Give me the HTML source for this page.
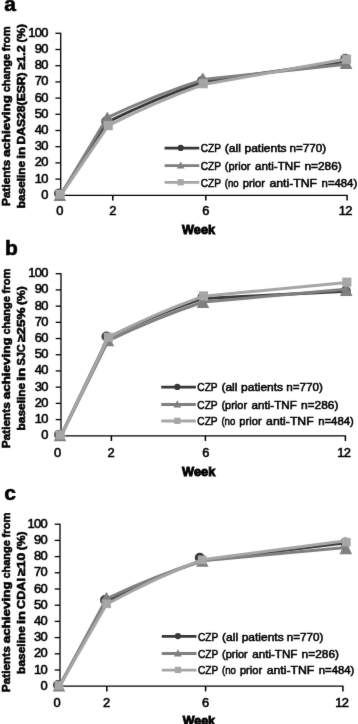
<!DOCTYPE html>
<html lang="en">
<head>
<meta charset="utf-8">
<title>Figure</title>
<style>
html,body{margin:0;padding:0;background:#fff;}
body{width:358px;height:724px;overflow:hidden;}
svg{display:block;font-family:'Liberation Sans', sans-serif;}
</style>
</head>
<body>
<svg width="358" height="724" viewBox="0 0 358 724" font-family="Liberation Sans, sans-serif">
<defs><filter id="soft" x="-2%" y="-2%" width="104%" height="104%"><feConvolveMatrix order="3" kernelMatrix="0.00524 0.06192 0.00524 0.06192 0.73137 0.06192 0.00524 0.06192 0.00524" edgeMode="none"/></filter></defs>
<g filter="url(#soft)">
<line x1="60.70" y1="32.75" x2="60.70" y2="195.85" stroke="#000" stroke-width="1.3"/>
<line x1="60.70" y1="195.30" x2="347.65" y2="195.30" stroke="#000" stroke-width="1.3"/>
<line x1="55.40" y1="195.30" x2="60.70" y2="195.30" stroke="#000" stroke-width="1.3"/>
<text transform="translate(41.20,198.80) scale(1.06,1)" font-size="12.2" letter-spacing="-0.65" stroke="#000" stroke-width="0.55">0</text>
<line x1="55.40" y1="179.10" x2="60.70" y2="179.10" stroke="#000" stroke-width="1.3"/>
<text transform="translate(34.70,182.60) scale(1.06,1)" font-size="12.2" letter-spacing="-0.65" stroke="#000" stroke-width="0.55">10</text>
<line x1="55.40" y1="162.90" x2="60.70" y2="162.90" stroke="#000" stroke-width="1.3"/>
<text transform="translate(34.70,166.40) scale(1.06,1)" font-size="12.2" letter-spacing="-0.65" stroke="#000" stroke-width="0.55">20</text>
<line x1="55.40" y1="146.70" x2="60.70" y2="146.70" stroke="#000" stroke-width="1.3"/>
<text transform="translate(34.70,150.20) scale(1.06,1)" font-size="12.2" letter-spacing="-0.65" stroke="#000" stroke-width="0.55">30</text>
<line x1="55.40" y1="130.50" x2="60.70" y2="130.50" stroke="#000" stroke-width="1.3"/>
<text transform="translate(34.70,134.00) scale(1.06,1)" font-size="12.2" letter-spacing="-0.65" stroke="#000" stroke-width="0.55">40</text>
<line x1="55.40" y1="114.30" x2="60.70" y2="114.30" stroke="#000" stroke-width="1.3"/>
<text transform="translate(34.70,117.80) scale(1.06,1)" font-size="12.2" letter-spacing="-0.65" stroke="#000" stroke-width="0.55">50</text>
<line x1="55.40" y1="98.10" x2="60.70" y2="98.10" stroke="#000" stroke-width="1.3"/>
<text transform="translate(34.70,101.60) scale(1.06,1)" font-size="12.2" letter-spacing="-0.65" stroke="#000" stroke-width="0.55">60</text>
<line x1="55.40" y1="81.90" x2="60.70" y2="81.90" stroke="#000" stroke-width="1.3"/>
<text transform="translate(34.70,85.40) scale(1.06,1)" font-size="12.2" letter-spacing="-0.65" stroke="#000" stroke-width="0.55">70</text>
<line x1="55.40" y1="65.70" x2="60.70" y2="65.70" stroke="#000" stroke-width="1.3"/>
<text transform="translate(34.70,69.20) scale(1.06,1)" font-size="12.2" letter-spacing="-0.65" stroke="#000" stroke-width="0.55">80</text>
<line x1="55.40" y1="49.50" x2="60.70" y2="49.50" stroke="#000" stroke-width="1.3"/>
<text transform="translate(34.70,53.00) scale(1.06,1)" font-size="12.2" letter-spacing="-0.65" stroke="#000" stroke-width="0.55">90</text>
<line x1="55.40" y1="33.30" x2="60.70" y2="33.30" stroke="#000" stroke-width="1.3"/>
<text transform="translate(28.20,36.80) scale(1.06,1)" font-size="12.2" letter-spacing="-0.65" stroke="#000" stroke-width="0.55">100</text>
<line x1="112.80" y1="195.30" x2="112.80" y2="200.50" stroke="#000" stroke-width="1.5"/>
<line x1="205.80" y1="195.30" x2="205.80" y2="200.50" stroke="#000" stroke-width="1.5"/>
<line x1="347.10" y1="195.30" x2="347.10" y2="200.50" stroke="#000" stroke-width="1.5"/>
<path d="M60.50,195.00 L107.30,122.20 Q155.15,98.40 203.00,81.80 L346.00,61.30" fill="none" stroke="#393939" stroke-width="3.0" stroke-linejoin="round"/>
<circle cx="59.00" cy="193.50" r="5.0" fill="#393939"/>
<circle cx="106.20" cy="121.50" r="5.0" fill="#393939"/>
<circle cx="202.00" cy="81.00" r="5.0" fill="#393939"/>
<circle cx="345.30" cy="58.80" r="5.0" fill="#393939"/>
<path d="M60.50,195.30 L107.30,117.60 Q155.15,95.00 203.00,79.60 L346.00,64.20" fill="none" stroke="#7f7f7f" stroke-width="3.0" stroke-linejoin="round"/>
<polygon points="59.80,189.80 66.10,201.10 53.50,201.10" fill="#7f7f7f"/>
<polygon points="107.30,111.80 113.60,122.10 101.00,122.10" fill="#7f7f7f"/>
<polygon points="202.70,72.40 209.00,82.70 196.40,82.70" fill="#7f7f7f"/>
<polygon points="346.00,56.10 352.30,69.10 339.70,69.10" fill="#7f7f7f"/>
<path d="M61.20,194.60 L108.20,125.70 Q155.70,101.55 203.20,84.60 L346.50,58.90" fill="none" stroke="#a6a6a6" stroke-width="3.0" stroke-linejoin="round"/>
<rect x="55.50" y="189.60" width="9.2" height="9.2" fill="#a6a6a6"/>
<rect x="103.60" y="121.00" width="9.2" height="9.2" fill="#a6a6a6"/>
<rect x="198.60" y="79.10" width="9.2" height="9.2" fill="#a6a6a6"/>
<rect x="341.90" y="54.60" width="9.2" height="9.2" fill="#a6a6a6"/>
<text transform="translate(56.27,214.90) scale(1.06,1)" font-size="12.2" letter-spacing="-0.65" stroke="#000" stroke-width="0.55">0</text>
<text transform="translate(109.22,214.90) scale(1.06,1)" font-size="12.2" letter-spacing="-0.65" stroke="#000" stroke-width="0.55">2</text>
<text transform="translate(202.22,214.90) scale(1.06,1)" font-size="12.2" letter-spacing="-0.65" stroke="#000" stroke-width="0.55">6</text>
<text transform="translate(338.74,214.90) scale(1.06,1)" font-size="12.2" letter-spacing="-0.65" stroke="#000" stroke-width="0.55">12</text>
<text x="182.10" y="234.20" font-size="12.5" textLength="32.90" lengthAdjust="spacingAndGlyphs" font-weight="bold" fill="#000" stroke="#000" stroke-width="0.9">Week</text>
<text x="4.30" y="10.70" font-size="21" font-weight="bold" stroke="#000" stroke-width="0.6">a</text>
<text transform="translate(9.80,206.00) rotate(-90)" x="0" y="0" font-size="11.3" font-weight="bold" stroke="#000" stroke-width="0.6" textLength="46.10" lengthAdjust="spacingAndGlyphs">Patients</text>
<text transform="translate(9.80,157.10) rotate(-90)" x="0" y="0" font-size="11.3" font-weight="bold" stroke="#000" stroke-width="0.6" textLength="62.00" lengthAdjust="spacingAndGlyphs">achieving</text>
<text transform="translate(9.80,92.30) rotate(-90)" x="0" y="0" font-size="11.3" font-weight="bold" stroke="#000" stroke-width="0.6" textLength="38.30" lengthAdjust="spacingAndGlyphs">change</text>
<text transform="translate(9.80,51.20) rotate(-90)" x="0" y="0" font-size="11.3" font-weight="bold" stroke="#000" stroke-width="0.6" textLength="24.80" lengthAdjust="spacingAndGlyphs">from</text>
<text transform="translate(25.00,208.30) rotate(-90)" x="0" y="0" font-size="11.3" font-weight="bold" stroke="#000" stroke-width="0.6" textLength="47.50" lengthAdjust="spacingAndGlyphs">baseline</text>
<text transform="translate(25.00,158.70) rotate(-90)" x="0" y="0" font-size="11.3" font-weight="bold" stroke="#000" stroke-width="0.6" textLength="11.90" lengthAdjust="spacingAndGlyphs">in</text>
<text transform="translate(25.00,144.50) rotate(-90)" x="0" y="0" font-size="11.3" font-weight="bold" stroke="#000" stroke-width="0.6" textLength="72.10" lengthAdjust="spacingAndGlyphs">DAS28(ESR)</text>
<text transform="translate(25.00,69.60) rotate(-90)" x="0" y="0" font-size="11.3" font-weight="bold" stroke="#000" stroke-width="0.6" textLength="24.40" lengthAdjust="spacingAndGlyphs">≥1.2</text>
<text transform="translate(25.00,42.40) rotate(-90)" x="0" y="0" font-size="11.3" font-weight="bold" stroke="#000" stroke-width="0.6" textLength="18.20" lengthAdjust="spacingAndGlyphs">(%)</text>
<line x1="164.60" y1="148.20" x2="199.30" y2="148.20" stroke="#393939" stroke-width="2.8"/>
<line x1="164.60" y1="165.60" x2="199.30" y2="165.60" stroke="#7f7f7f" stroke-width="2.8"/>
<line x1="164.60" y1="182.40" x2="199.30" y2="182.40" stroke="#a6a6a6" stroke-width="2.8"/>
<circle cx="180.70" cy="147.90" r="3.1" fill="#393939"/>
<polygon points="180.70,161.40 184.60,168.50 176.80,168.50" fill="#7f7f7f"/>
<rect x="177.60" y="179.10" width="6.2" height="6.3" fill="#a6a6a6"/>
<text x="200.70" y="152.30" font-size="11.5" textLength="20.30" lengthAdjust="spacingAndGlyphs" fill="#000" stroke="#000" stroke-width="0.55">CZP</text>
<text x="224.80" y="152.30" font-size="11.5" textLength="16.10" lengthAdjust="spacingAndGlyphs" fill="#000" stroke="#000" stroke-width="0.55">(all</text>
<text x="244.50" y="152.30" font-size="11.5" textLength="42.00" lengthAdjust="spacingAndGlyphs" fill="#000" stroke="#000" stroke-width="0.55">patients</text>
<text x="289.60" y="152.30" font-size="11.5" textLength="36.60" lengthAdjust="spacingAndGlyphs" fill="#000" stroke="#000" stroke-width="0.55">n=770)</text>
<text x="200.70" y="169.70" font-size="11.5" textLength="20.30" lengthAdjust="spacingAndGlyphs" fill="#000" stroke="#000" stroke-width="0.55">CZP</text>
<text x="224.80" y="169.70" font-size="11.5" textLength="25.70" lengthAdjust="spacingAndGlyphs" fill="#000" stroke="#000" stroke-width="0.55">(prior</text>
<text x="255.00" y="169.70" font-size="11.5" textLength="45.30" lengthAdjust="spacingAndGlyphs" fill="#000" stroke="#000" stroke-width="0.55">anti-TNF</text>
<text x="304.40" y="169.70" font-size="11.5" textLength="37.40" lengthAdjust="spacingAndGlyphs" fill="#000" stroke="#000" stroke-width="0.55">n=286)</text>
<text x="200.70" y="186.50" font-size="11.5" textLength="20.30" lengthAdjust="spacingAndGlyphs" fill="#000" stroke="#000" stroke-width="0.55">CZP</text>
<text x="224.80" y="186.50" font-size="11.5" textLength="13.90" lengthAdjust="spacingAndGlyphs" fill="#000" stroke="#000" stroke-width="0.55">(no</text>
<text x="242.70" y="186.50" font-size="11.5" textLength="22.30" lengthAdjust="spacingAndGlyphs" fill="#000" stroke="#000" stroke-width="0.55">prior</text>
<text x="269.50" y="186.50" font-size="11.5" textLength="47.60" lengthAdjust="spacingAndGlyphs" fill="#000" stroke="#000" stroke-width="0.55">anti-TNF</text>
<text x="321.60" y="186.50" font-size="11.5" textLength="35.60" lengthAdjust="spacingAndGlyphs" fill="#000" stroke="#000" stroke-width="0.55">n=484)</text>
<line x1="61.00" y1="273.15" x2="61.00" y2="436.35" stroke="#000" stroke-width="1.3"/>
<line x1="61.00" y1="435.80" x2="345.95" y2="435.80" stroke="#000" stroke-width="1.3"/>
<line x1="55.70" y1="435.80" x2="61.00" y2="435.80" stroke="#000" stroke-width="1.3"/>
<text transform="translate(41.20,439.30) scale(1.06,1)" font-size="12.2" letter-spacing="-0.65" stroke="#000" stroke-width="0.55">0</text>
<line x1="55.70" y1="419.59" x2="61.00" y2="419.59" stroke="#000" stroke-width="1.3"/>
<text transform="translate(34.70,423.09) scale(1.06,1)" font-size="12.2" letter-spacing="-0.65" stroke="#000" stroke-width="0.55">10</text>
<line x1="55.70" y1="403.38" x2="61.00" y2="403.38" stroke="#000" stroke-width="1.3"/>
<text transform="translate(34.70,406.88) scale(1.06,1)" font-size="12.2" letter-spacing="-0.65" stroke="#000" stroke-width="0.55">20</text>
<line x1="55.70" y1="387.17" x2="61.00" y2="387.17" stroke="#000" stroke-width="1.3"/>
<text transform="translate(34.70,390.67) scale(1.06,1)" font-size="12.2" letter-spacing="-0.65" stroke="#000" stroke-width="0.55">30</text>
<line x1="55.70" y1="370.96" x2="61.00" y2="370.96" stroke="#000" stroke-width="1.3"/>
<text transform="translate(34.70,374.46) scale(1.06,1)" font-size="12.2" letter-spacing="-0.65" stroke="#000" stroke-width="0.55">40</text>
<line x1="55.70" y1="354.75" x2="61.00" y2="354.75" stroke="#000" stroke-width="1.3"/>
<text transform="translate(34.70,358.25) scale(1.06,1)" font-size="12.2" letter-spacing="-0.65" stroke="#000" stroke-width="0.55">50</text>
<line x1="55.70" y1="338.54" x2="61.00" y2="338.54" stroke="#000" stroke-width="1.3"/>
<text transform="translate(34.70,342.04) scale(1.06,1)" font-size="12.2" letter-spacing="-0.65" stroke="#000" stroke-width="0.55">60</text>
<line x1="55.70" y1="322.33" x2="61.00" y2="322.33" stroke="#000" stroke-width="1.3"/>
<text transform="translate(34.70,325.83) scale(1.06,1)" font-size="12.2" letter-spacing="-0.65" stroke="#000" stroke-width="0.55">70</text>
<line x1="55.70" y1="306.12" x2="61.00" y2="306.12" stroke="#000" stroke-width="1.3"/>
<text transform="translate(34.70,309.62) scale(1.06,1)" font-size="12.2" letter-spacing="-0.65" stroke="#000" stroke-width="0.55">80</text>
<line x1="55.70" y1="289.91" x2="61.00" y2="289.91" stroke="#000" stroke-width="1.3"/>
<text transform="translate(34.70,293.41) scale(1.06,1)" font-size="12.2" letter-spacing="-0.65" stroke="#000" stroke-width="0.55">90</text>
<line x1="55.70" y1="273.70" x2="61.00" y2="273.70" stroke="#000" stroke-width="1.3"/>
<text transform="translate(28.20,277.20) scale(1.06,1)" font-size="12.2" letter-spacing="-0.65" stroke="#000" stroke-width="0.55">100</text>
<line x1="111.40" y1="435.80" x2="111.40" y2="441.00" stroke="#000" stroke-width="1.5"/>
<line x1="205.40" y1="435.80" x2="205.40" y2="441.00" stroke="#000" stroke-width="1.5"/>
<line x1="345.40" y1="435.80" x2="345.40" y2="441.00" stroke="#000" stroke-width="1.5"/>
<path d="M61.20,435.20 L108.20,337.40 Q155.70,314.30 203.20,298.40 L346.00,291.30" fill="none" stroke="#393939" stroke-width="3.0" stroke-linejoin="round"/>
<circle cx="59.10" cy="434.70" r="5.0" fill="#393939"/>
<circle cx="106.50" cy="336.50" r="5.0" fill="#393939"/>
<circle cx="202.50" cy="297.30" r="5.0" fill="#393939"/>
<circle cx="345.80" cy="291.00" r="5.0" fill="#393939"/>
<path d="M61.00,436.00 L108.20,340.70 Q155.70,317.75 203.20,302.00 L346.00,289.30" fill="none" stroke="#7f7f7f" stroke-width="3.0" stroke-linejoin="round"/>
<polygon points="60.00,430.00 66.30,441.30 53.70,441.30" fill="#7f7f7f"/>
<polygon points="108.00,335.00 114.30,346.30 101.70,346.30" fill="#7f7f7f"/>
<polygon points="203.00,296.60 209.30,307.90 196.70,307.90" fill="#7f7f7f"/>
<polygon points="346.20,283.10 352.50,296.10 339.90,296.10" fill="#7f7f7f"/>
<path d="M61.30,435.20 L108.40,337.30 Q155.90,313.15 203.40,296.20 L346.80,282.60" fill="none" stroke="#a6a6a6" stroke-width="3.0" stroke-linejoin="round"/>
<rect x="55.60" y="430.30" width="9.2" height="9.2" fill="#a6a6a6"/>
<rect x="103.80" y="332.70" width="9.2" height="9.2" fill="#a6a6a6"/>
<rect x="198.80" y="291.40" width="9.2" height="9.2" fill="#a6a6a6"/>
<rect x="342.20" y="277.60" width="9.2" height="9.2" fill="#a6a6a6"/>
<text transform="translate(53.97,456.60) scale(1.06,1)" font-size="12.2" letter-spacing="-0.65" stroke="#000" stroke-width="0.55">0</text>
<text transform="translate(107.42,456.60) scale(1.06,1)" font-size="12.2" letter-spacing="-0.65" stroke="#000" stroke-width="0.55">2</text>
<text transform="translate(202.22,456.60) scale(1.06,1)" font-size="12.2" letter-spacing="-0.65" stroke="#000" stroke-width="0.55">6</text>
<text transform="translate(337.14,456.60) scale(1.06,1)" font-size="12.2" letter-spacing="-0.65" stroke="#000" stroke-width="0.55">12</text>
<text x="182.10" y="475.60" font-size="12.5" textLength="33.30" lengthAdjust="spacingAndGlyphs" font-weight="bold" fill="#000" stroke="#000" stroke-width="0.9">Week</text>
<text x="4.90" y="254.60" font-size="21" font-weight="bold" stroke="#000" stroke-width="0.6">b</text>
<text transform="translate(9.80,448.20) rotate(-90)" x="0" y="0" font-size="11.3" font-weight="bold" stroke="#000" stroke-width="0.6" textLength="46.10" lengthAdjust="spacingAndGlyphs">Patients</text>
<text transform="translate(9.80,399.30) rotate(-90)" x="0" y="0" font-size="11.3" font-weight="bold" stroke="#000" stroke-width="0.6" textLength="62.00" lengthAdjust="spacingAndGlyphs">achieving</text>
<text transform="translate(9.80,334.50) rotate(-90)" x="0" y="0" font-size="11.3" font-weight="bold" stroke="#000" stroke-width="0.6" textLength="38.30" lengthAdjust="spacingAndGlyphs">change</text>
<text transform="translate(9.80,293.40) rotate(-90)" x="0" y="0" font-size="11.3" font-weight="bold" stroke="#000" stroke-width="0.6" textLength="24.80" lengthAdjust="spacingAndGlyphs">from</text>
<text transform="translate(25.00,430.50) rotate(-90)" x="0" y="0" font-size="11.3" font-weight="bold" stroke="#000" stroke-width="0.6" textLength="47.70" lengthAdjust="spacingAndGlyphs">baseline</text>
<text transform="translate(25.00,380.70) rotate(-90)" x="0" y="0" font-size="11.3" font-weight="bold" stroke="#000" stroke-width="0.6" textLength="13.00" lengthAdjust="spacingAndGlyphs">in</text>
<text transform="translate(25.00,365.60) rotate(-90)" x="0" y="0" font-size="11.3" font-weight="bold" stroke="#000" stroke-width="0.6" textLength="21.40" lengthAdjust="spacingAndGlyphs">SJC</text>
<text transform="translate(25.00,342.10) rotate(-90)" x="0" y="0" font-size="11.3" font-weight="bold" stroke="#000" stroke-width="0.6" textLength="34.70" lengthAdjust="spacingAndGlyphs">≥25%</text>
<text transform="translate(25.00,305.10) rotate(-90)" x="0" y="0" font-size="11.3" font-weight="bold" stroke="#000" stroke-width="0.6" textLength="18.90" lengthAdjust="spacingAndGlyphs">(%)</text>
<line x1="161.20" y1="387.20" x2="195.90" y2="387.20" stroke="#393939" stroke-width="2.8"/>
<line x1="161.20" y1="404.50" x2="195.90" y2="404.50" stroke="#7f7f7f" stroke-width="2.8"/>
<line x1="161.20" y1="421.00" x2="195.90" y2="421.00" stroke="#a6a6a6" stroke-width="2.8"/>
<circle cx="177.30" cy="386.90" r="3.1" fill="#393939"/>
<polygon points="177.30,400.30 181.20,407.40 173.40,407.40" fill="#7f7f7f"/>
<rect x="174.20" y="417.70" width="6.2" height="6.3" fill="#a6a6a6"/>
<text x="197.30" y="391.30" font-size="11.5" textLength="20.30" lengthAdjust="spacingAndGlyphs" fill="#000" stroke="#000" stroke-width="0.55">CZP</text>
<text x="221.40" y="391.30" font-size="11.5" textLength="16.10" lengthAdjust="spacingAndGlyphs" fill="#000" stroke="#000" stroke-width="0.55">(all</text>
<text x="241.10" y="391.30" font-size="11.5" textLength="42.00" lengthAdjust="spacingAndGlyphs" fill="#000" stroke="#000" stroke-width="0.55">patients</text>
<text x="286.20" y="391.30" font-size="11.5" textLength="36.60" lengthAdjust="spacingAndGlyphs" fill="#000" stroke="#000" stroke-width="0.55">n=770)</text>
<text x="197.30" y="408.60" font-size="11.5" textLength="20.30" lengthAdjust="spacingAndGlyphs" fill="#000" stroke="#000" stroke-width="0.55">CZP</text>
<text x="221.40" y="408.60" font-size="11.5" textLength="25.70" lengthAdjust="spacingAndGlyphs" fill="#000" stroke="#000" stroke-width="0.55">(prior</text>
<text x="251.60" y="408.60" font-size="11.5" textLength="45.30" lengthAdjust="spacingAndGlyphs" fill="#000" stroke="#000" stroke-width="0.55">anti-TNF</text>
<text x="301.00" y="408.60" font-size="11.5" textLength="37.40" lengthAdjust="spacingAndGlyphs" fill="#000" stroke="#000" stroke-width="0.55">n=286)</text>
<text x="197.30" y="425.10" font-size="11.5" textLength="20.30" lengthAdjust="spacingAndGlyphs" fill="#000" stroke="#000" stroke-width="0.55">CZP</text>
<text x="221.40" y="425.10" font-size="11.5" textLength="13.90" lengthAdjust="spacingAndGlyphs" fill="#000" stroke="#000" stroke-width="0.55">(no</text>
<text x="239.30" y="425.10" font-size="11.5" textLength="22.30" lengthAdjust="spacingAndGlyphs" fill="#000" stroke="#000" stroke-width="0.55">prior</text>
<text x="266.10" y="425.10" font-size="11.5" textLength="47.60" lengthAdjust="spacingAndGlyphs" fill="#000" stroke="#000" stroke-width="0.55">anti-TNF</text>
<text x="318.20" y="425.10" font-size="11.5" textLength="35.60" lengthAdjust="spacingAndGlyphs" fill="#000" stroke="#000" stroke-width="0.55">n=484)</text>
<line x1="60.00" y1="523.65" x2="60.00" y2="686.75" stroke="#000" stroke-width="1.3"/>
<line x1="60.00" y1="686.20" x2="343.45" y2="686.20" stroke="#000" stroke-width="1.3"/>
<line x1="54.70" y1="686.20" x2="60.00" y2="686.20" stroke="#000" stroke-width="1.3"/>
<text transform="translate(40.40,689.70) scale(1.06,1)" font-size="12.2" letter-spacing="-0.65" stroke="#000" stroke-width="0.55">0</text>
<line x1="54.70" y1="670.00" x2="60.00" y2="670.00" stroke="#000" stroke-width="1.3"/>
<text transform="translate(33.90,673.50) scale(1.06,1)" font-size="12.2" letter-spacing="-0.65" stroke="#000" stroke-width="0.55">10</text>
<line x1="54.70" y1="653.80" x2="60.00" y2="653.80" stroke="#000" stroke-width="1.3"/>
<text transform="translate(33.90,657.30) scale(1.06,1)" font-size="12.2" letter-spacing="-0.65" stroke="#000" stroke-width="0.55">20</text>
<line x1="54.70" y1="637.60" x2="60.00" y2="637.60" stroke="#000" stroke-width="1.3"/>
<text transform="translate(33.90,641.10) scale(1.06,1)" font-size="12.2" letter-spacing="-0.65" stroke="#000" stroke-width="0.55">30</text>
<line x1="54.70" y1="621.40" x2="60.00" y2="621.40" stroke="#000" stroke-width="1.3"/>
<text transform="translate(33.90,624.90) scale(1.06,1)" font-size="12.2" letter-spacing="-0.65" stroke="#000" stroke-width="0.55">40</text>
<line x1="54.70" y1="605.20" x2="60.00" y2="605.20" stroke="#000" stroke-width="1.3"/>
<text transform="translate(33.90,608.70) scale(1.06,1)" font-size="12.2" letter-spacing="-0.65" stroke="#000" stroke-width="0.55">50</text>
<line x1="54.70" y1="589.00" x2="60.00" y2="589.00" stroke="#000" stroke-width="1.3"/>
<text transform="translate(33.90,592.50) scale(1.06,1)" font-size="12.2" letter-spacing="-0.65" stroke="#000" stroke-width="0.55">60</text>
<line x1="54.70" y1="572.80" x2="60.00" y2="572.80" stroke="#000" stroke-width="1.3"/>
<text transform="translate(33.90,576.30) scale(1.06,1)" font-size="12.2" letter-spacing="-0.65" stroke="#000" stroke-width="0.55">70</text>
<line x1="54.70" y1="556.60" x2="60.00" y2="556.60" stroke="#000" stroke-width="1.3"/>
<text transform="translate(33.90,560.10) scale(1.06,1)" font-size="12.2" letter-spacing="-0.65" stroke="#000" stroke-width="0.55">80</text>
<line x1="54.70" y1="540.40" x2="60.00" y2="540.40" stroke="#000" stroke-width="1.3"/>
<text transform="translate(33.90,543.90) scale(1.06,1)" font-size="12.2" letter-spacing="-0.65" stroke="#000" stroke-width="0.55">90</text>
<line x1="54.70" y1="524.20" x2="60.00" y2="524.20" stroke="#000" stroke-width="1.3"/>
<text transform="translate(27.40,527.70) scale(1.06,1)" font-size="12.2" letter-spacing="-0.65" stroke="#000" stroke-width="0.55">100</text>
<line x1="106.80" y1="686.20" x2="106.80" y2="691.40" stroke="#000" stroke-width="1.5"/>
<line x1="205.60" y1="686.20" x2="205.60" y2="691.40" stroke="#000" stroke-width="1.5"/>
<line x1="342.90" y1="686.20" x2="342.90" y2="691.40" stroke="#000" stroke-width="1.5"/>
<path d="M59.60,685.80 L106.30,601.50 Q154.15,577.40 202.00,560.50 L346.00,542.80" fill="none" stroke="#393939" stroke-width="3.0" stroke-linejoin="round"/>
<circle cx="58.00" cy="685.00" r="5.0" fill="#393939"/>
<circle cx="105.00" cy="600.00" r="5.0" fill="#393939"/>
<circle cx="199.80" cy="557.80" r="5.0" fill="#393939"/>
<circle cx="345.20" cy="542.60" r="5.0" fill="#393939"/>
<path d="M59.40,686.20 L106.50,598.80 Q154.35,576.20 202.20,560.80 L345.50,547.50" fill="none" stroke="#7f7f7f" stroke-width="3.0" stroke-linejoin="round"/>
<polygon points="59.00,680.20 65.30,691.50 52.70,691.50" fill="#7f7f7f"/>
<polygon points="106.50,591.90 112.80,602.20 100.20,602.20" fill="#7f7f7f"/>
<polygon points="202.40,555.50 208.70,566.80 196.10,566.80" fill="#7f7f7f"/>
<polygon points="345.80,541.30 352.10,554.30 339.50,554.30" fill="#7f7f7f"/>
<path d="M59.80,685.60 L106.60,604.30 Q154.40,578.40 202.20,559.70 L346.00,540.80" fill="none" stroke="#a6a6a6" stroke-width="3.0" stroke-linejoin="round"/>
<rect x="54.60" y="681.10" width="8.6" height="8.6" fill="#a6a6a6"/>
<rect x="102.30" y="599.50" width="8.6" height="8.6" fill="#a6a6a6"/>
<rect x="197.90" y="555.50" width="8.6" height="8.6" fill="#a6a6a6"/>
<rect x="342.00" y="537.90" width="8.6" height="8.6" fill="#a6a6a6"/>
<text transform="translate(53.47,706.70) scale(1.06,1)" font-size="12.2" letter-spacing="-0.65" stroke="#000" stroke-width="0.55">0</text>
<text transform="translate(102.92,706.70) scale(1.06,1)" font-size="12.2" letter-spacing="-0.65" stroke="#000" stroke-width="0.55">2</text>
<text transform="translate(202.02,706.70) scale(1.06,1)" font-size="12.2" letter-spacing="-0.65" stroke="#000" stroke-width="0.55">6</text>
<text transform="translate(335.24,706.70) scale(1.06,1)" font-size="12.2" letter-spacing="-0.65" stroke="#000" stroke-width="0.55">12</text>
<text x="182.70" y="724.60" font-size="12.5" textLength="32.30" lengthAdjust="spacingAndGlyphs" font-weight="bold" fill="#000" stroke="#000" stroke-width="0.9">Week</text>
<text x="4.30" y="499.80" font-size="21" font-weight="bold" stroke="#000" stroke-width="0.6">c</text>
<text transform="translate(9.80,692.20) rotate(-90)" x="0" y="0" font-size="11.3" font-weight="bold" stroke="#000" stroke-width="0.6" textLength="46.10" lengthAdjust="spacingAndGlyphs">Patients</text>
<text transform="translate(9.80,643.30) rotate(-90)" x="0" y="0" font-size="11.3" font-weight="bold" stroke="#000" stroke-width="0.6" textLength="62.00" lengthAdjust="spacingAndGlyphs">achieving</text>
<text transform="translate(9.80,578.50) rotate(-90)" x="0" y="0" font-size="11.3" font-weight="bold" stroke="#000" stroke-width="0.6" textLength="38.30" lengthAdjust="spacingAndGlyphs">change</text>
<text transform="translate(9.80,537.40) rotate(-90)" x="0" y="0" font-size="11.3" font-weight="bold" stroke="#000" stroke-width="0.6" textLength="24.80" lengthAdjust="spacingAndGlyphs">from</text>
<text transform="translate(25.00,673.90) rotate(-90)" x="0" y="0" font-size="11.3" font-weight="bold" stroke="#000" stroke-width="0.6" textLength="47.80" lengthAdjust="spacingAndGlyphs">baseline</text>
<text transform="translate(25.00,624.00) rotate(-90)" x="0" y="0" font-size="11.3" font-weight="bold" stroke="#000" stroke-width="0.6" textLength="13.00" lengthAdjust="spacingAndGlyphs">in</text>
<text transform="translate(25.00,608.90) rotate(-90)" x="0" y="0" font-size="11.3" font-weight="bold" stroke="#000" stroke-width="0.6" textLength="30.80" lengthAdjust="spacingAndGlyphs">CDAI</text>
<text transform="translate(25.00,575.90) rotate(-90)" x="0" y="0" font-size="11.3" font-weight="bold" stroke="#000" stroke-width="0.6" textLength="23.10" lengthAdjust="spacingAndGlyphs">≥10</text>
<text transform="translate(25.00,550.30) rotate(-90)" x="0" y="0" font-size="11.3" font-weight="bold" stroke="#000" stroke-width="0.6" textLength="18.90" lengthAdjust="spacingAndGlyphs">(%)</text>
<line x1="161.80" y1="636.40" x2="196.50" y2="636.40" stroke="#393939" stroke-width="2.8"/>
<line x1="161.80" y1="653.50" x2="196.50" y2="653.50" stroke="#7f7f7f" stroke-width="2.8"/>
<line x1="161.80" y1="670.10" x2="196.50" y2="670.10" stroke="#a6a6a6" stroke-width="2.8"/>
<circle cx="177.90" cy="636.10" r="3.1" fill="#393939"/>
<polygon points="177.90,649.30 181.80,656.40 174.00,656.40" fill="#7f7f7f"/>
<rect x="174.80" y="666.80" width="6.2" height="6.3" fill="#a6a6a6"/>
<text x="197.90" y="640.50" font-size="11.5" textLength="20.30" lengthAdjust="spacingAndGlyphs" fill="#000" stroke="#000" stroke-width="0.55">CZP</text>
<text x="222.00" y="640.50" font-size="11.5" textLength="16.10" lengthAdjust="spacingAndGlyphs" fill="#000" stroke="#000" stroke-width="0.55">(all</text>
<text x="241.70" y="640.50" font-size="11.5" textLength="42.00" lengthAdjust="spacingAndGlyphs" fill="#000" stroke="#000" stroke-width="0.55">patients</text>
<text x="286.80" y="640.50" font-size="11.5" textLength="36.60" lengthAdjust="spacingAndGlyphs" fill="#000" stroke="#000" stroke-width="0.55">n=770)</text>
<text x="197.90" y="657.60" font-size="11.5" textLength="20.30" lengthAdjust="spacingAndGlyphs" fill="#000" stroke="#000" stroke-width="0.55">CZP</text>
<text x="222.00" y="657.60" font-size="11.5" textLength="25.70" lengthAdjust="spacingAndGlyphs" fill="#000" stroke="#000" stroke-width="0.55">(prior</text>
<text x="252.20" y="657.60" font-size="11.5" textLength="45.30" lengthAdjust="spacingAndGlyphs" fill="#000" stroke="#000" stroke-width="0.55">anti-TNF</text>
<text x="301.60" y="657.60" font-size="11.5" textLength="37.40" lengthAdjust="spacingAndGlyphs" fill="#000" stroke="#000" stroke-width="0.55">n=286)</text>
<text x="197.90" y="674.20" font-size="11.5" textLength="20.30" lengthAdjust="spacingAndGlyphs" fill="#000" stroke="#000" stroke-width="0.55">CZP</text>
<text x="222.00" y="674.20" font-size="11.5" textLength="13.90" lengthAdjust="spacingAndGlyphs" fill="#000" stroke="#000" stroke-width="0.55">(no</text>
<text x="239.90" y="674.20" font-size="11.5" textLength="22.30" lengthAdjust="spacingAndGlyphs" fill="#000" stroke="#000" stroke-width="0.55">prior</text>
<text x="266.70" y="674.20" font-size="11.5" textLength="47.60" lengthAdjust="spacingAndGlyphs" fill="#000" stroke="#000" stroke-width="0.55">anti-TNF</text>
<text x="318.80" y="674.20" font-size="11.5" textLength="35.60" lengthAdjust="spacingAndGlyphs" fill="#000" stroke="#000" stroke-width="0.55">n=484)</text>
</g>
</svg>
</body>
</html>
